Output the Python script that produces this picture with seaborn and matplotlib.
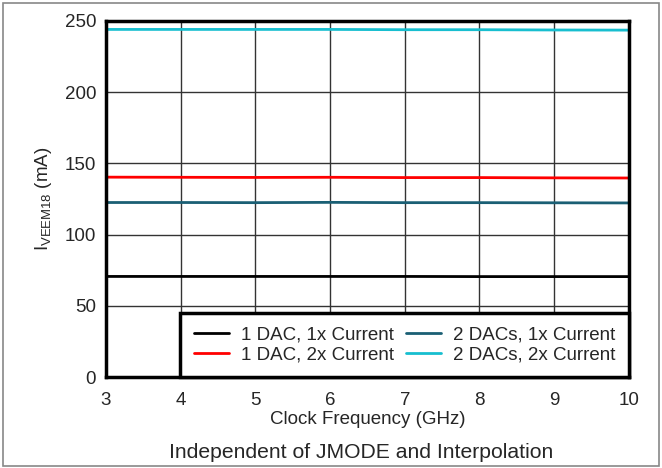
import matplotlib
matplotlib.use("Agg")
import matplotlib.pyplot as plt
import seaborn as sns
import pandas as pd
from matplotlib.patches import Rectangle

freq = [3, 4, 5, 6, 7, 8, 9, 10]
dac1_1x = [70.6, 70.6, 70.6, 70.6, 70.6, 70.5, 70.5, 70.5]
dac1_2x = [140.3, 140.2, 140.1, 140.2, 140.0, 140.0, 139.8, 139.7]
dac2_1x = [122.5, 122.5, 122.4, 122.6, 122.4, 122.4, 122.3, 122.2]
dac2_2x = [244.0, 244.0, 244.0, 244.0, 243.8, 243.8, 243.6, 243.5]
labels = ["1 DAC, 1x Current", "1 DAC, 2x Current", "2 DACs, 1x Current", "2 DACs, 2x Current"]
colors = ["#000000", "#ff0000", "#1a5f74", "#17becf"]

rows = []
for lab, vals in zip(labels, [dac1_1x, dac1_2x, dac2_1x, dac2_2x]):
    for f, v in zip(freq, vals):
        rows.append({"freq": f, "val": v, "series": lab})
df = pd.DataFrame(rows)

sns.set_style("white")
plt.rcParams['font.family'] = ['Liberation Sans', 'DejaVu Sans']
plt.rcParams['mathtext.fontset'] = 'custom'
plt.rcParams['mathtext.rm'] = 'Liberation Sans'

FS = 13.5
fig = plt.figure(figsize=(6.62, 4.68), dpi=100)
ax = fig.add_axes([0.160, 0.1944, 0.790, 0.761])

sns.lineplot(data=df, x="freq", y="val", hue="series", hue_order=labels,
             palette=colors, linewidth=2, ax=ax, legend=False)

ax.set_xlim(3, 10)
ax.set_ylim(0, 250)
ax.set_xticks(freq)
ax.set_yticks([0, 50, 100, 150, 200, 250])
ax.grid(True, color="#333333", linewidth=1)
ax.set_axisbelow(True)
for s in ax.spines.values():
    s.set_color("black")
    s.set_linewidth(2.5)
ax.tick_params(axis='x', labelsize=FS, length=0, pad=11)
ax.tick_params(axis='y', labelsize=FS, length=0, pad=7)
ax.set_xlabel("Clock Frequency (GHz)", fontsize=FS, labelpad=1)
ax.set_ylabel(r"I$_{\mathregular{VEEM18}}$ (mA)", fontsize=FS, labelpad=8)

handles = [plt.Line2D([], [], color=c, linewidth=2) for c in colors]
leg = ax.legend(handles, labels, ncol=2, loc="lower right", bbox_to_anchor=(1.0, 0.0),
                fontsize=FS, frameon=True, fancybox=False, framealpha=1,
                edgecolor="black", borderpad=0.7, columnspacing=0.6,
                handlelength=1.9, handletextpad=0.65, labelspacing=0.18, borderaxespad=0)
leg.get_frame().set_linewidth(2.5)

fig.text(0.545, 0.034, "Independent of JMODE and Interpolation", ha="center", va="center", fontsize=15.2)
fig.patches.append(Rectangle((0.005, 0.004), 0.990, 0.989, transform=fig.transFigure,
                             fill=False, edgecolor="#888888", linewidth=1.2))

fig.savefig("out.png", dpi=100)
